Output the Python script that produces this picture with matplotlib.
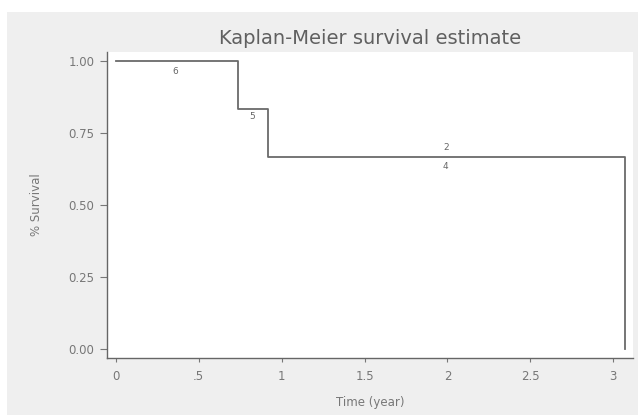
"""
Kaplan-Meier survival estimate - Stata-style step plot
"""

import matplotlib
matplotlib.use('Agg')
import matplotlib.pyplot as plt
from matplotlib.patches import Rectangle

# step function (time in years, survival proportion)
times = [0.0, 0.736, 0.917, 3.07]
survival = [1.0, 0.833, 0.667, 0.0]

# number-at-risk style annotations
label_text = ["6", "5", "2", "4"]
label_x = [0.36, 0.82, 1.99, 1.99]
label_y = [0.962, 0.806, 0.701, 0.632]

xticks = [0, 0.5, 1, 1.5, 2, 2.5, 3]
xtick_labels = ["0", ".5", "1", "1.5", "2", "2.5", "3"]
yticks = [0.0, 0.25, 0.5, 0.75, 1.0]
ytick_labels = ["0.00", "0.25", "0.50", "0.75", "1.00"]

W, H = 639, 417
fig = plt.figure(figsize=(W / 100, H / 100), dpi=100)
fig.patch.set_facecolor("white")

# light gray outer panel, kept behind the axes
fig.add_artist(Rectangle((7 / W, 2 / H), 631 / W, 403 / H,
                         transform=fig.transFigure, facecolor="#efefef",
                         edgecolor="none", zorder=-10))

ax = fig.add_axes([107 / W, 59 / H, 526 / W, 306 / H])
ax.set_facecolor("white")

# step curve: hold each value until the next event, then final drop
xs, ys = [], []
for i in range(len(times) - 1):
    xs += [times[i], times[i + 1]]
    ys += [survival[i], survival[i]]
xs.append(times[-1])
ys.append(survival[-1])
ax.plot(xs, ys, color="#6a6a6a", linewidth=1.3)

for t, x, y in zip(label_text, label_x, label_y):
    ax.text(x, y, t, ha="center", va="center", fontsize=6.5, color="#666666")

ax.set_xlim(-0.054, 3.12)
ax.set_ylim(-0.031, 1.031)
ax.set_xticks(xticks)
ax.set_xticklabels(xtick_labels)
ax.set_yticks(yticks)
ax.set_yticklabels(ytick_labels)
ax.tick_params(axis="both", colors="#777777", labelcolor="#777777",
               labelsize=8.5, length=5, width=0.8, pad=4)
ax.tick_params(axis="x", length=3, pad=6)

for side in ["top", "right"]:
    ax.spines[side].set_visible(False)
for side in ["left", "bottom"]:
    ax.spines[side].set_color("#666666")
    ax.spines[side].set_linewidth(1.0)

ax.set_xlabel("Time (year)", fontsize=8.5, color="#777777", labelpad=9)
ax.set_ylabel("% Survival", fontsize=8.5, color="#777777", labelpad=18)

fig.text(370 / W, 1 - 38 / H, "Kaplan-Meier survival estimate",
         ha="center", va="center", fontsize=14, color="#606060")

plt.savefig("out.png", dpi=100)
plt.close()
